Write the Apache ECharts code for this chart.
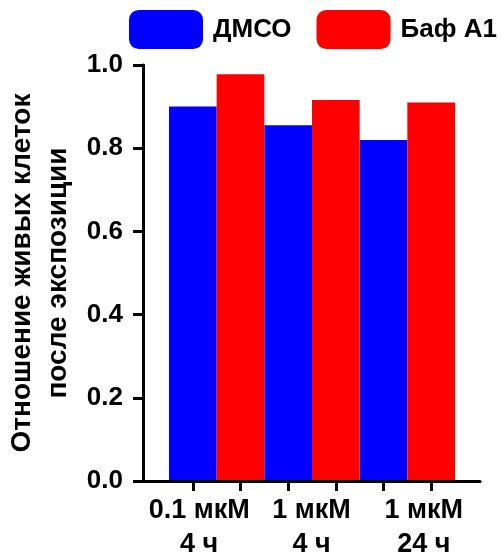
<!DOCTYPE html>
<html>
<head>
<meta charset="utf-8">
<script src="https://cdn.jsdelivr.net/npm/echarts@6/dist/echarts.min.js"></script>
<style>
  html, body { margin: 0; padding: 0; background: #fff; }
  #chart { width: 504px; height: 553px; }
</style>
</head>
<body>
<div id="chart"></div>
<script>
// Viability ratio after exposure, per treatment condition
const categories = ['0.1 мкМ\n4 ч', '1 мкМ\n4 ч', '1 мкМ\n24 ч'];
const seriesNames = ['ДМСО', 'Баф А1'];
const dmsoValues = [0.90, 0.855, 0.82];
const bafValues = [0.978, 0.916, 0.91];
const yTicks = [0, 0.2, 0.4, 0.6, 0.8, 1.0];

const FONT = '"Liberation Sans", Arial, sans-serif';
const BLACK = '#000';

// one tick slot per bar, so ticks sit under bar centres
const barSlots = [];
categories.forEach(() => seriesNames.forEach(() => barSlots.push('')));

const chart = echarts.init(document.getElementById('chart'), null, { renderer: 'canvas' });

chart.setOption({
  backgroundColor: '#fff',
  animation: false,
  textStyle: { fontFamily: FONT },
  legend: {
    left: 129,
    top: 10,
    padding: 0,
    itemWidth: 74,
    itemHeight: 39,
    itemGap: 25,
    icon: 'roundRect',
    textStyle: { fontFamily: FONT, fontSize: 26, fontWeight: 'bold', color: BLACK, padding: [0, 0, 0, 5] },
    data: seriesNames
  },
  grid: [
    // frame with the axes and the group labels
    { left: 143, right: 24, top: 65, bottom: 72, outerBoundsMode: 'none', containLabel: false },
    // bar area
    { left: 169, right: 49, top: 65, bottom: 72, outerBoundsMode: 'none', containLabel: false }
  ],
  xAxis: [
    {
      type: 'category', gridIndex: 0, data: categories, position: 'bottom',
      z: 5,
      axisLine: { show: true, lineStyle: { color: BLACK, width: 3 } },
      axisTick: { show: false },
      axisLabel: {
        show: true, interval: 0, margin: 13, color: BLACK,
        fontFamily: FONT, fontSize: 27, fontWeight: 'bold', lineHeight: 34
      }
    },
    {
      type: 'category', gridIndex: 1, data: barSlots, position: 'bottom',
      z: 6,
      axisLine: { show: true, lineStyle: { color: BLACK, width: 3 } },
      axisTick: { show: true, alignWithLabel: true, length: 10, lineStyle: { color: BLACK, width: 3 } },
      axisLabel: { show: false }
    },
    {
      type: 'category', gridIndex: 1, data: categories, position: 'bottom',
      show: false
    }
  ],
  yAxis: [
    {
      type: 'value', gridIndex: 0,
      min: yTicks[0], max: yTicks[yTicks.length - 1], interval: 0.2,
      z: 5,
      axisLine: { show: true, lineStyle: { color: BLACK, width: 3 } },
      axisTick: { show: true, length: 10, lineStyle: { color: BLACK, width: 3 } },
      splitLine: { show: false },
      axisLabel: {
        margin: 20, color: BLACK, fontFamily: FONT, fontSize: 26, fontWeight: 'bold',
        formatter: v => v.toFixed(1)
      },
      name: 'Отношение живых клеток\nпосле экспозиции',
      nameLocation: 'middle',
      nameRotate: 90,
      nameGap: 67,
      nameTextStyle: { color: BLACK, fontFamily: FONT, fontSize: 28, fontWeight: 'bold', lineHeight: 36 }
    },
    {
      type: 'value', gridIndex: 1, min: 0, max: 1, show: false
    }
  ],
  series: [
    {
      name: seriesNames[0], type: 'bar', xAxisIndex: 2, yAxisIndex: 1,
      barGap: '0%', barCategoryGap: '0%',
      itemStyle: { color: '#0000ff' },
      data: dmsoValues
    },
    {
      name: seriesNames[1], type: 'bar', xAxisIndex: 2, yAxisIndex: 1,
      barGap: '0%', barCategoryGap: '0%',
      itemStyle: { color: '#ff0000' },
      data: bafValues
    }
  ]
});
</script>
</body>
</html>
